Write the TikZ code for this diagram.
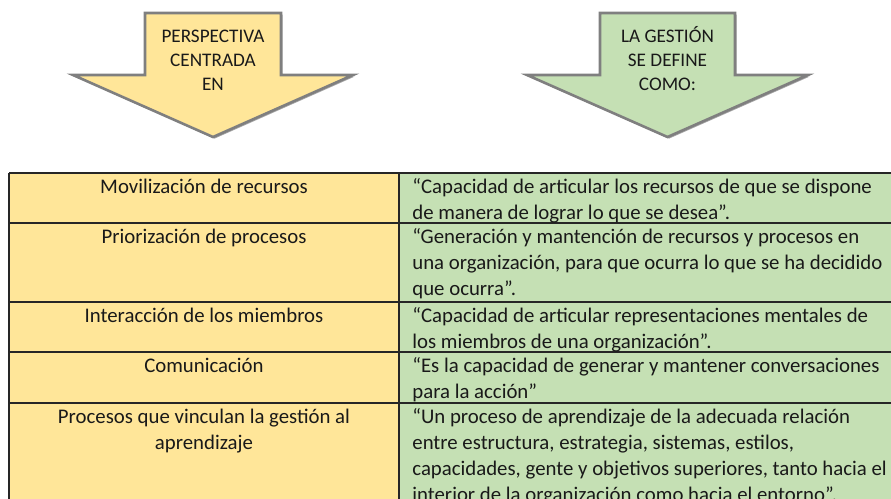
\documentclass[tikz,border=0pt]{standalone}
\usepackage{fontspec}
\setmainfont{Carlito}
\definecolor{amarillo}{HTML}{FFE699}
\definecolor{verde}{HTML}{C5E0B4}
\definecolor{borde}{HTML}{7F7F7F}
\definecolor{linea}{HTML}{262626}
\begin{document}
\begin{tikzpicture}[x=0.5pt,y=-0.5pt]
\tikzstyle{every node}=[inner sep=0pt, text=black!90]
\tikzstyle{head}=[font=\fontsize{9.6}{12}\selectfont, align=center, anchor=base]
\tikzstyle{cellL}=[font=\fontsize{10.4}{13}\selectfont, align=center, anchor=base]
\tikzstyle{cellR}=[font=\fontsize{10.4}{13}\selectfont, align=left, anchor=base west]
\tikzstyle{flecha}=[draw=borde, line width=1.3pt, line join=miter]
\tikzstyle{sombra}=[fill=black!35, xshift=0.8pt, yshift=-0.8pt]
\tikzstyle{tline}=[draw=linea, line width=0.9pt]
\useasboundingbox (0,0) rectangle (891,499);
\clip (0,0) rectangle (891,499);
\fill[sombra] (145,13) -- (281,13) -- (281,75) -- (353,75) -- (213,137) -- (73,75) -- (145,75) -- cycle;
\filldraw[flecha, fill=amarillo] (145,13) -- (281,13) -- (281,75) -- (353,75) -- (213,137) -- (73,75) -- (145,75) -- cycle;
\fill[sombra] (600,13) -- (735,13) -- (735,75) -- (808,75) -- (667.5,137) -- (527,75) -- (600,75) -- cycle;
\filldraw[flecha, fill=verde] (600,13) -- (735,13) -- (735,75) -- (808,75) -- (667.5,137) -- (527,75) -- (600,75) -- cycle;
% base = last line
\node (p) [head] at (213,90) {PERSPECTIVA\\CENTRADA\\EN};
\node (g) [head] at (667.5,90) {LA GESTIÓN\\SE DEFINE\\COMO:};
\fill[amarillo] (9,173) rectangle (399,520);
\fill[verde] (399,173) rectangle (895,520);
\foreach \y in {173,223,302,352,403} \draw[tline] (9,\y) -- (895,\y);
\draw[tline] (9,173) -- (9,520);
\draw[tline] (399,173) -- (399,520);
\node (l1) [cellL] at (204,193) {Movilización de recursos};
\node (l2) [cellL] at (204,243) {Priorización de procesos};
\node (l3) [cellL] at (204,322) {Interacción de los miembros};
\node (l4) [cellL] at (204,372) {Comunicación};
\node (l5) [cellL] at (204,449) {Procesos que vinculan la gestión al\\aprendizaje};
\node (r1) [cellR] at (412,219) {“Capacidad de articular los recursos de que se dispone\\de manera de lograr lo que se desea”.};
\node (r2) [cellR] at (412,295) {“Generación y mantención de recursos y procesos en\\una organización, para que ocurra lo que se ha decidido\\que ocurra”.};
\node (r3) [cellR] at (412,348) {“Capacidad de articular representaciones mentales de\\los miembros de una organización”.};
\node (r4) [cellR] at (412,398) {“Es la capacidad de generar y mantener conversaciones\\para la acción”};
\node (r5) [cellR] at (412,501) {“Un proceso de aprendizaje de la adecuada relación\\entre estructura, estrategia, sistemas, estilos,\\capacidades, gente y objetivos superiores, tanto hacia el\\interior de la organización como hacia el entorno”.};
\end{tikzpicture}
\end{document}
